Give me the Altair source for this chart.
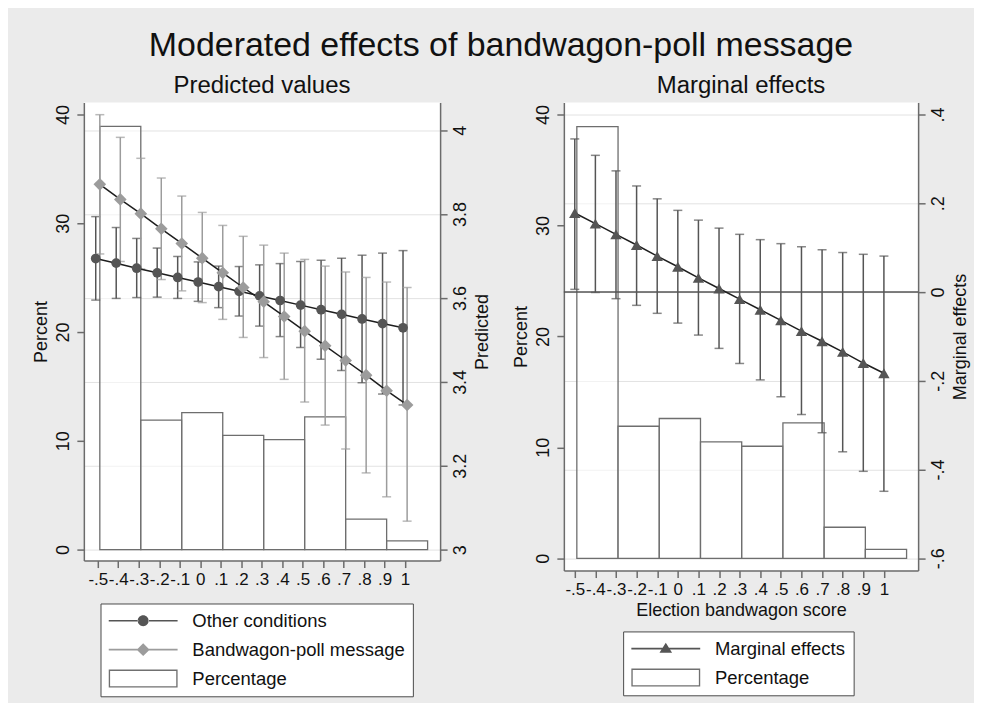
import altair as alt
import numpy as np
import pandas as pd

FONT = "Liberation Sans"

# ---------------- data ----------------
x_vals = [-0.5, -0.4, -0.3, -0.2, -0.1, 0.0, 0.1, 0.2, 0.3, 0.4, 0.5, 0.6, 0.7, 0.8, 0.9, 1.0]

other_pred = [3.694, 3.683, 3.671, 3.660, 3.649, 3.638, 3.627, 3.616, 3.605, 3.594, 3.583, 3.572, 3.561, 3.550, 3.539, 3.529]
other_hi = [3.794, 3.768, 3.742, 3.719, 3.699, 3.686, 3.676, 3.675, 3.679, 3.682, 3.687, 3.690, 3.695, 3.702, 3.707, 3.713]
other_lo = [3.595, 3.599, 3.601, 3.602, 3.599, 3.592, 3.577, 3.557, 3.533, 3.508, 3.482, 3.454, 3.427, 3.398, 3.371, 3.345]

bw_pred = [3.871, 3.835, 3.801, 3.765, 3.730, 3.695, 3.660, 3.625, 3.591, 3.556, 3.521, 3.486, 3.451, 3.416, 3.379, 3.345]
bw_hi = [4.037, 3.983, 3.933, 3.886, 3.843, 3.804, 3.773, 3.747, 3.726, 3.707, 3.692, 3.676, 3.662, 3.649, 3.638, 3.625]
bw_lo = [3.705, 3.687, 3.669, 3.644, 3.617, 3.589, 3.549, 3.506, 3.458, 3.406, 3.352, 3.297, 3.240, 3.183, 3.126, 3.068]

me_val = [0.178, 0.154, 0.130, 0.106, 0.081, 0.057, 0.032, 0.008, -0.016, -0.040, -0.064, -0.088, -0.111, -0.135, -0.160, -0.183]
me_hi = [0.345, 0.308, 0.273, 0.239, 0.210, 0.184, 0.162, 0.144, 0.130, 0.118, 0.109, 0.102, 0.095, 0.089, 0.085, 0.081]
me_lo = [0.006, -0.001, -0.015, -0.030, -0.048, -0.070, -0.097, -0.127, -0.161, -0.198, -0.236, -0.276, -0.317, -0.360, -0.404, -0.449]

bin_start = [-0.49, -0.29, -0.09, 0.11, 0.31, 0.51, 0.71, 0.91]
bin_end = [-0.29, -0.09, 0.11, 0.31, 0.51, 0.71, 0.91, 1.11]
percent = [38.9, 11.9, 12.6, 10.5, 10.1, 12.2, 2.8, 0.8]

pct_ticks = [0, 10, 20, 30, 40]
pred_ticks = [3.0, 3.2, 3.4, 3.6, 3.8, 4.0]
me_ticks = [-0.6, -0.4, -0.2, 0.0, 0.2, 0.4]

left_names = ["Other conditions", "Bandwagon-poll message", "Percentage"]
right_names = ["Marginal effects", "Percentage"]

# ---------------- styles ----------------
DARK = "#555555"
LIGHT = "#9c9c9c"
LINE = "#1e1e1e"
BAR_STROKE = "#6e6e6e"

P_CIRCLE = ("M-3.833,-0.09H-0.55V0.09H-3.833Z M0.55,-0.09H3.833V0.09H0.55Z "
            "M-0.61,0A0.61,0.61 0 1,0 0.61,0A0.61,0.61 0 1,0 -0.61,0Z")
P_DIAMOND = ("M-3.833,-0.09H-0.6V0.09H-3.833Z M0.6,-0.09H3.833V0.09H0.6Z "
             "M0,-0.72L0.72,0L0,0.72L-0.72,0Z")
P_TRI = ("M-3.833,-0.09H-0.3V0.09H-3.833Z M0.3,-0.09H3.833V0.09H0.3Z "
         "M0,-0.65L0.7,0.45L-0.7,0.45Z")
P_RECT = "M-3.833,-1H3.833V1H-3.833Z M-3.683,-0.85V0.85H3.683V-0.85Z"

LABEL_EXPR = "replace(replace(format(datum.value, '.1~f'), '\u2212', '-'), '0.', '.')"

bars_df = pd.DataFrame({"b0": bin_start, "b1": bin_end, "pct": percent, "zero": [0.0] * len(percent)})
xs = np.array(x_vals)
other_df = pd.DataFrame({"x": xs - 0.01, "v": other_pred, "lo": other_lo, "hi": other_hi})
bw_df = pd.DataFrame({"x": xs + 0.01, "v": bw_pred, "lo": bw_lo, "hi": bw_hi})
me_df = pd.DataFrame({"x": xs, "v": me_val, "lo": me_lo, "hi": me_hi})
zero_df = pd.DataFrame({"v": [0.0]})


def x_enc(field, domain, title):
    return alt.X(
        field, type="quantitative",
        scale=alt.Scale(domain=domain, nice=False, zero=False),
        axis=alt.Axis(values=x_vals, labelExpr=LABEL_EXPR, title=title, grid=False,
                      labelOverlap=False, labelFlush=False, labelBound=False, labelFontSize=17),
    )


def pct_y(domain):
    return alt.Y(
        "pct", type="quantitative",
        scale=alt.Scale(domain=domain, nice=False, zero=False),
        axis=alt.Axis(orient="left", values=pct_ticks, title="Percent", grid=False,
                      labelAngle=270, labelAlign="center", labelBaseline="bottom"),
    )


def right_y(field, domain, ticks, title, fmt_expr):
    ax = dict(orient="right", values=ticks, title=title, grid=True,
              labelAngle=270, labelAlign="center", labelBaseline="top",
              titleAngle=270, titleBaseline="top")
    if fmt_expr:
        ax["labelExpr"] = fmt_expr
    else:
        ax["format"] = ".1~f"
    return alt.Y(field, type="quantitative",
                 scale=alt.Scale(domain=domain, nice=False, zero=False),
                 axis=alt.Axis(**ax))


def bars_layer(xdom, ydom, xtitle):
    return alt.Chart(bars_df).mark_rect(
        fill="white", fillOpacity=0.55, stroke=BAR_STROKE, strokeWidth=1.3
    ).encode(
        x=x_enc("b0", xdom, xtitle), x2="b1",
        y=pct_y(ydom), y2="zero",
    )


def err_layers(df, color, xdom, xtitle, yfun):
    rule = alt.Chart(df).mark_rule(color=color, strokeWidth=1.5).encode(
        x=x_enc("x", xdom, xtitle), y=yfun("lo"), y2="hi")
    cap_lo = alt.Chart(df).mark_tick(color=color, orient="horizontal", size=9, thickness=1.5).encode(
        x=x_enc("x", xdom, xtitle), y=yfun("lo"))
    cap_hi = alt.Chart(df).mark_tick(color=color, orient="horizontal", size=9, thickness=1.5).encode(
        x=x_enc("x", xdom, xtitle), y=yfun("hi"))
    return [rule, cap_lo, cap_hi]


def legend_layer(names, colors, paths, lx, ly, xdom, xtitle, yfun):
    leg_df = pd.DataFrame({"series": names, "x": [np.nan] * len(names), "y": [np.nan] * len(names)})

    def L():
        return alt.Legend(
            title=None, orient="none", legendX=lx, legendY=ly, direction="vertical",
            fillColor="white", strokeColor="#4a4a4a", padding=8,
            labelFont=FONT, labelFontSize=18.5, labelColor="#111111",
            symbolSize=324, symbolOffset=25.5, labelOffset=40, rowPadding=10,
            symbolStrokeWidth=0, labelLimit=600,
        )

    return alt.Chart(leg_df).mark_point(filled=True, opacity=1).encode(
        x=x_enc("x", xdom, xtitle), y=yfun("y"),
        color=alt.Color("series:N", scale=alt.Scale(domain=names, range=colors), legend=L()),
        shape=alt.Shape("series:N", scale=alt.Scale(domain=names, range=paths), legend=L()),
    )


# ---------------- left panel ----------------
LX = [-0.568, 1.171]
LPCT = [-1.01, 41.1]
LPRED = [2.974, 4.066]


def ly(field):
    return right_y(field, LPRED, pred_ticks, "Predicted", None)


left_inner = alt.layer(
    *err_layers(other_df, DARK, LX, None, ly),
    *err_layers(bw_df, LIGHT, LX, None, ly),
    alt.Chart(other_df).mark_line(color=LINE, strokeWidth=1.5).encode(x=x_enc("x", LX, None), y=ly("v")),
    alt.Chart(bw_df).mark_line(color=LINE, strokeWidth=1.5).encode(x=x_enc("x", LX, None), y=ly("v")),
    alt.Chart(other_df).mark_point(shape="circle", filled=True, size=95, color=DARK, opacity=1).encode(
        x=x_enc("x", LX, None), y=ly("v")),
    alt.Chart(bw_df).mark_point(shape="diamond", filled=True, size=160, color=LIGHT, opacity=1).encode(
        x=x_enc("x", LX, None), y=ly("v")),
    legend_layer(left_names, [DARK, LIGHT, "#707070"], [P_CIRCLE, P_DIAMOND, P_RECT],
                 16.7, 502, LX, None, ly),
)

left = alt.layer(bars_layer(LX, LPCT, None), left_inner).resolve_scale(y="independent").properties(
    width=357, height=459,
    title=alt.TitleParams("Predicted values", fontSize=24, anchor="middle", frame="group", offset=5),
)

# ---------------- right panel ----------------
RX = [-0.553, 1.166]
RPCT = [-1.105, 41.08]
RME = [-0.6276, 0.427]
XT = "Election bandwagon score"


def ry(field):
    return right_y(field, RME, me_ticks, "Marginal effects", LABEL_EXPR)


right_inner = alt.layer(
    alt.Chart(zero_df).mark_rule(color="#555555", strokeWidth=1.5).encode(y=ry("v")),
    *err_layers(me_df, DARK, RX, XT, ry),
    alt.Chart(me_df).mark_line(color=LINE, strokeWidth=1.5).encode(x=x_enc("x", RX, XT), y=ry("v")),
    alt.Chart(me_df).mark_point(shape="triangle-up", filled=True, size=130, color=DARK, opacity=1).encode(
        x=x_enc("x", RX, XT), y=ry("v")),
    legend_layer(right_names, [DARK, "#707070"], [P_TRI, P_RECT], 59.4, 530, RX, XT, ry),
)

right = alt.layer(bars_layer(RX, RPCT, XT), right_inner).resolve_scale(y="independent").properties(
    width=355, height=469,
    title=alt.TitleParams("Marginal effects", fontSize=24, anchor="middle", frame="group", offset=5),
)

chart = alt.hconcat(left, right, spacing=22).resolve_scale(
    x="independent", y="independent", color="independent", shape="independent"
).properties(
    title=alt.TitleParams("Moderated effects of bandwagon-poll message", fontSize=34, anchor="middle", offset=11),
    padding={"left": 25, "top": 20, "right": 5, "bottom": 5},
).configure(
    background="#ebebeb", font=FONT,
).configure_view(
    fill="white", stroke=None,
).configure_axis(
    domainColor="#6b6b6b", domainWidth=1.5, tickColor="#6b6b6b", tickWidth=1.5, tickSize=7,
    labelFont=FONT, labelFontSize=18, labelColor="#111111", labelPadding=4,
    titleFont=FONT, titleFontSize=18, titleFontWeight="normal", titleColor="#111111", titlePadding=4,
    gridColor="#e2e2e2", gridWidth=1,
).configure_title(
    font=FONT, fontWeight="normal", color="#111111",
)

chart.save("out.html", embed_options={"renderer": "svg", "actions": False})
